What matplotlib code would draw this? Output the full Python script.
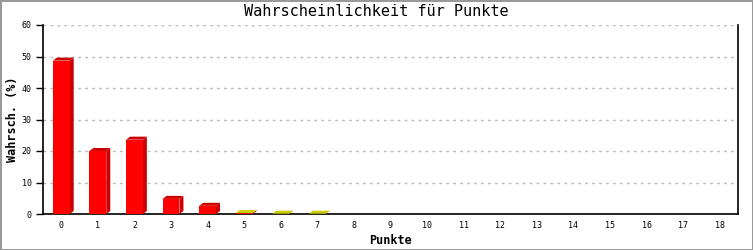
import numpy as np
import matplotlib.pyplot as plt
from matplotlib.patches import Polygon

# Daten
punkte = list(range(19))
wahrsch = [48.7, 20.0, 23.6, 4.8, 2.6, 0.3, 0.1, 0.1, 0, 0, 0, 0, 0, 0, 0, 0, 0, 0, 0]
top_farben = ['#cc0000'] * 5 + ['#cccc00'] * 3 + ['#cc0000'] * 11

plt.rcParams['font.family'] = ['DejaVu Sans Mono']

fig = plt.figure(figsize=(7.53, 2.5), dpi=100)
fig.patch.set_edgecolor('#999999')
fig.patch.set_linewidth(2)
ax = fig.add_axes([43 / 753, 36 / 250, 695 / 753, 189 / 250])

ax.set_xlim(-0.5, 18.5)
ax.set_ylim(0, 60)

breite = 0.46
# 3D-Tiefe in Dateneinheiten (ca. 4px nach rechts, 3px nach oben)
dx = 4 / (695 / 19)
dy = 3 / (189 / 60)

for x, v, tf in zip(punkte, wahrsch, top_farben):
    if v <= 0:
        continue
    l, r = x - breite / 2, x + breite / 2
    seite = Polygon([(r, 0), (r + dx, dy), (r + dx, v + dy), (r, v)],
                    closed=True, facecolor='#cc0000', edgecolor='none', zorder=3)
    oben = Polygon([(l, v), (l + dx, v + dy), (r + dx, v + dy), (r, v)],
                   closed=True, facecolor=tf, edgecolor='none', zorder=3)
    ax.add_patch(seite)
    ax.add_patch(oben)
ax.bar(punkte, wahrsch, width=breite, color='#ff0000', zorder=4)

ax.set_yticks(range(0, 61, 10))
ax.set_xticks(punkte)
ax.yaxis.grid(True, color='#bbbbbb', linestyle=(0, (2, 3)), linewidth=1)
ax.set_axisbelow(True)
ax.spines['top'].set_visible(False)
for s in ['left', 'bottom', 'right']:
    ax.spines[s].set_linewidth(1.2)
ax.tick_params(axis='y', length=5, width=1, labelsize=6, pad=3)
ax.tick_params(axis='x', length=0, labelsize=6, pad=5)

fig.suptitle('Wahrscheinlichkeit für Punkte', fontsize=11, x=0.5, y=0.985)
ax.set_ylabel('Wahrsch. (%)', fontsize=8.5, fontweight='bold', labelpad=2)
ax.set_xlabel('Punkte', fontsize=8.5, fontweight='bold', labelpad=3)

fig.savefig('out.png', dpi=100)
